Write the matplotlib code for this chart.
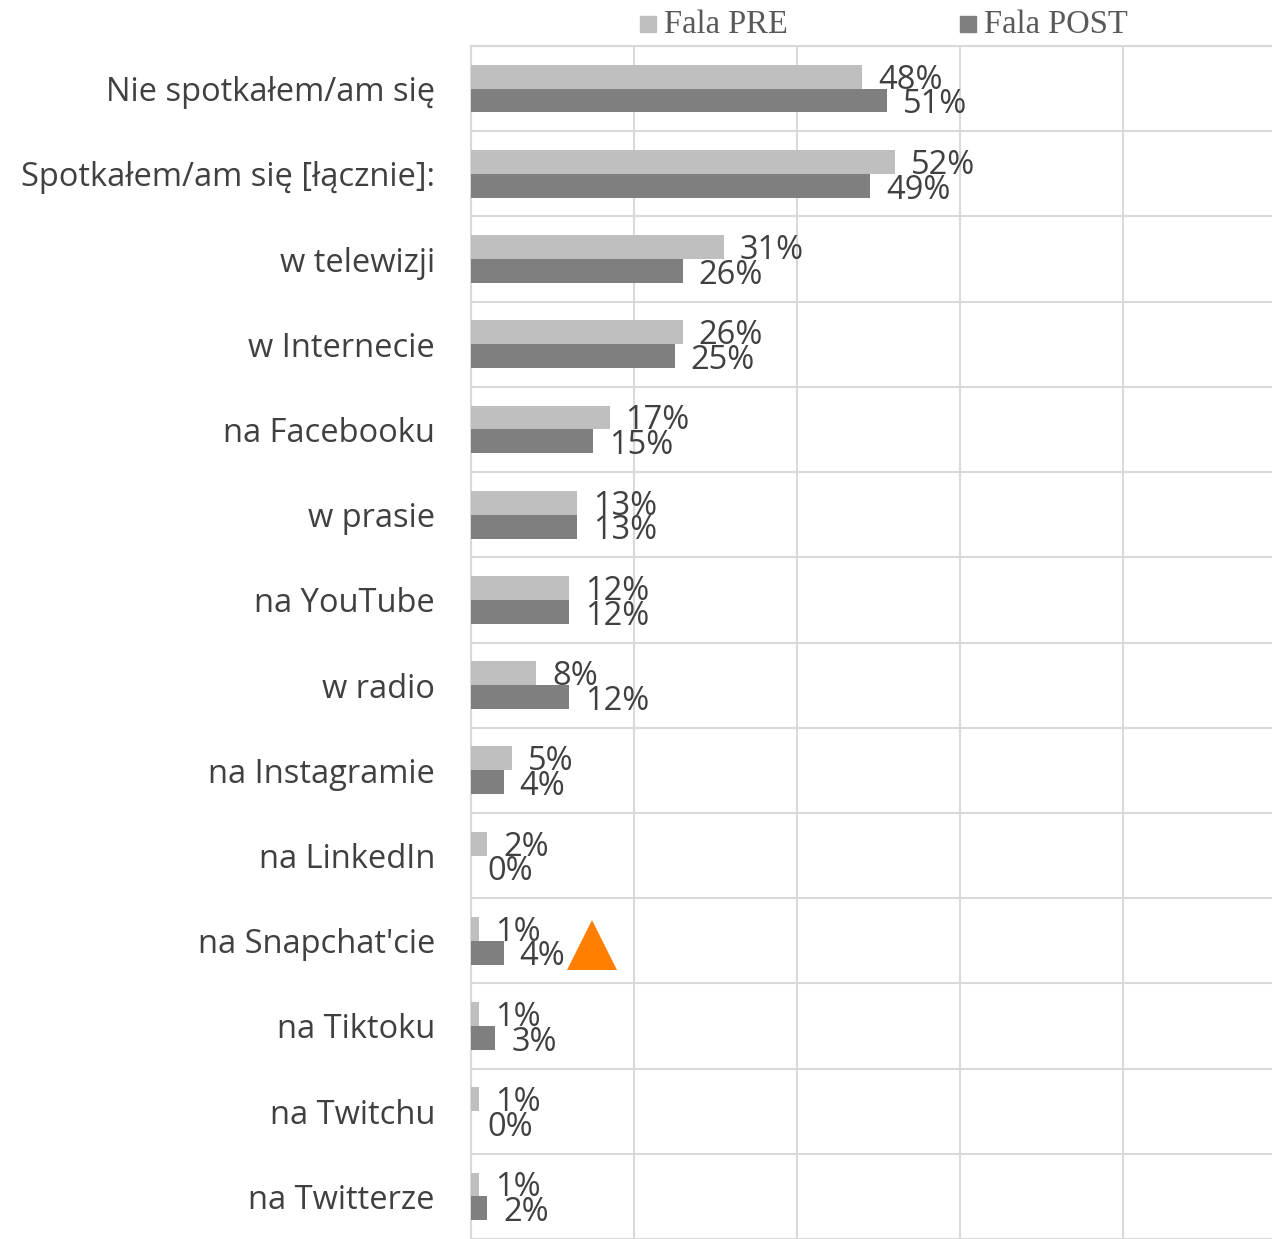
import matplotlib.pyplot as plt
import numpy as np
from matplotlib.patches import Rectangle

# DATA =================================================================================================================

CATEGORIES = [
    "Nie spotkałem/am się",
    "Spotkałem/am się [łącznie]:",
    "w telewizji",
    "w Internecie",
    "na Facebooku",
    "w prasie",
    "na YouTube",
    "w radio",
    "na Instagramie",
    "na LinkedIn",
    "na Snapchat'cie",
    "na Tiktoku",
    "na Twitchu",
    "na Twitterze",
]
PRE_VALUES = [48, 52, 31, 26, 17, 13, 12, 8, 5, 2, 1, 1, 1, 1]
POST_VALUES = [51, 49, 26, 25, 15, 13, 12, 12, 4, 0, 4, 3, 0, 2]
SERIES_NAMES = ["Fala PRE", "Fala POST"]
HIGHLIGHT_CATEGORY = "na Snapchat'cie"
HIGHLIGHT_X = 14.8

# STYLE ================================================================================================================

PRE_COLOR = "#BFBFBF"
POST_COLOR = "#7F7F7F"
GRID_COLOR = "#D9D9D9"
TEXT_COLOR = "#404040"
LEGEND_TEXT_COLOR = "#595959"
TRIANGLE_COLOR = "#FF8000"
BAR_HEIGHT = 0.28
X_MAX = 98.3

W, H, DPI = 1272, 1239, 100

# PLOT =================================================================================================================

fig = plt.figure(figsize=(W / DPI, H / DPI), dpi=DPI)
ax = fig.add_axes([471 / W, 0.0, 1 - 471 / W, 1 - 46 / H])

n = len(CATEGORIES)
y = np.arange(n)
pre = np.array(PRE_VALUES)
post = np.array(POST_VALUES)

ax.barh(y - BAR_HEIGHT / 2, pre, height=BAR_HEIGHT, color=PRE_COLOR, zorder=3)
ax.barh(y + BAR_HEIGHT / 2, post, height=BAR_HEIGHT, color=POST_COLOR, zorder=3)

label_font = dict(family=["Open Sans", "DejaVu Sans"], fontsize=23.5, color=TEXT_COLOR, va="center", ha="left")
for yi, v in zip(y, pre):
    ax.annotate(f"{v}%", (v, yi - BAR_HEIGHT / 2 + 0.04), xytext=(11.5, 0), textcoords="offset points",
                zorder=5, **label_font)
for yi, v in zip(y, post):
    ax.annotate(f"{v}%", (v, yi + BAR_HEIGHT / 2 + 0.05), xytext=(11.5, 0), textcoords="offset points",
                zorder=5, **label_font)

# orange marker next to the Snapchat row
hi = CATEGORIES.index(HIGHLIGHT_CATEGORY)
ax.plot([HIGHLIGHT_X], [hi + 0.05], marker="^", markersize=36, color=TRIANGLE_COLOR,
        markeredgewidth=0, zorder=6, clip_on=False)

ax.set_xlim(0, X_MAX)
ax.set_ylim(n - 0.5, -0.5)

ax.set_xticks([0, 20, 40, 60, 80])
ax.set_xticklabels([])
ax.set_yticks(y)
ax.set_yticklabels(CATEGORIES, family=["Open Sans", "DejaVu Sans"], fontsize=23.5, color=TEXT_COLOR)
ax.set_yticks(np.arange(-0.5, n, 1.0), minor=True)
ax.tick_params(axis="both", which="both", length=0)
ax.tick_params(axis="y", pad=26)

ax.grid(axis="x", which="major", color=GRID_COLOR, linewidth=1.5, zorder=0)
ax.grid(axis="y", which="minor", color=GRID_COLOR, linewidth=1.5, zorder=0)

for side in ["right", "bottom"]:
    ax.spines[side].set_visible(False)
ax.spines["left"].set_color(GRID_COLOR)
ax.spines["left"].set_linewidth(1.5)
ax.spines["top"].set_color(GRID_COLOR)
ax.spines["top"].set_linewidth(1.5)

# LEGEND ===============================================================================================================

legend_font = dict(family=["Liberation Serif", "DejaVu Serif"], fontsize=23.5, color=LEGEND_TEXT_COLOR,
                   va="center", ha="left")
for name, color, x_px in zip(SERIES_NAMES, [PRE_COLOR, POST_COLOR], [640, 960]):
    fig.patches.append(Rectangle((x_px / W, 1 - 32 / H), 16 / W, 16 / H, transform=fig.transFigure,
                                 color=color))
    fig.text((x_px + 24) / W, 1 - 25 / H, name, **legend_font)

fig.savefig("out.png", dpi=DPI)
